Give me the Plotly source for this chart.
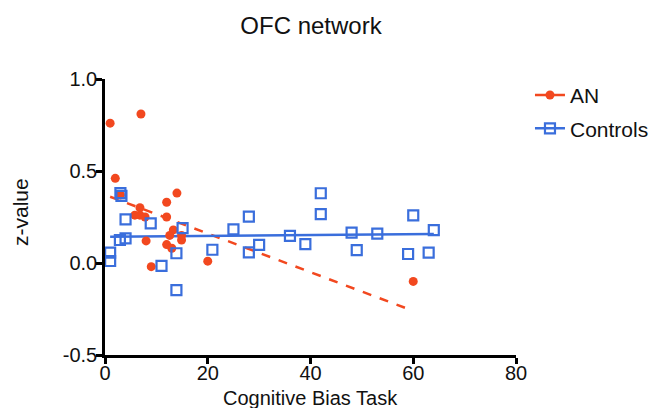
import plotly.graph_objects as go

# AN group (filled circles)
an_x = [1.0, 2.0, 3.0, 7.0, 6.8, 5.8, 6.8, 7.8, 8.0, 9.0, 12.0, 14.0, 12.0, 13.3, 12.6, 14.9, 14.9, 12.0, 13.0, 20.0, 60.0]
an_y = [0.76, 0.46, 0.37, 0.81, 0.30, 0.26, 0.26, 0.25, 0.12, -0.02, 0.33, 0.38, 0.25, 0.18, 0.15, 0.15, 0.125, 0.10, 0.08, 0.01, -0.10]

# Controls group (open squares)
ctl_x = [1.0, 1.0, 3.0, 3.2, 4.0, 2.9, 4.0, 8.9, 11.0, 13.9, 13.9, 15.1, 20.9, 25.0, 28.0, 28.0, 30.0, 36.0, 39.0, 42.0, 42.0, 48.0, 49.0, 53.0, 60.0, 59.0, 63.0, 64.0]
ctl_y = [0.056, 0.011, 0.38, 0.365, 0.237, 0.125, 0.134, 0.215, -0.016, -0.147, 0.053, 0.19, 0.072, 0.183, 0.252, 0.058, 0.098, 0.147, 0.103, 0.379, 0.266, 0.165, 0.07, 0.16, 0.259, 0.049, 0.056, 0.179]

# Regression lines (endpoints)
an_fit_x = [1.0, 59.5]
an_fit_y = [0.36, -0.255]
ctl_fit_x = [1.0, 64.0]
ctl_fit_y = [0.143, 0.158]

x_ticks = [0, 20, 40, 60, 80]
y_ticks = [-0.5, 0.0, 0.5, 1.0]

RED = "#F2481F"
BLUE = "#3A6EDC"
INK = "#111111"
FONT = "Arial, Liberation Sans, sans-serif"

W, H = 654, 408
ML, MR, MT, MB = 105, 138, 79, 53

fig = go.Figure()

fig.add_trace(go.Scatter(x=an_fit_x, y=an_fit_y, mode="lines",
                         line=dict(color=RED, width=2.5, dash="dash"),
                         showlegend=False, hoverinfo="skip"))
fig.add_trace(go.Scatter(x=ctl_fit_x, y=ctl_fit_y, mode="lines",
                         line=dict(color=BLUE, width=2.5),
                         showlegend=False, hoverinfo="skip"))
fig.add_trace(go.Scatter(x=an_x, y=an_y, mode="markers",
                         marker=dict(symbol="circle", size=9, color=RED),
                         showlegend=False, cliponaxis=False))
fig.add_trace(go.Scatter(x=ctl_x, y=ctl_y, mode="markers",
                         marker=dict(symbol="square-open", size=10, color=BLUE,
                                     line=dict(width=2.2, color=BLUE)),
                         showlegend=False, cliponaxis=False))

# Legend entries
fig.add_trace(go.Scatter(x=[None], y=[None], mode="lines+markers", name="AN",
                         legendgroup="an",
                         line=dict(color=RED, width=2.5),
                         marker=dict(symbol="circle", size=9, color=RED)))
fig.add_trace(go.Scatter(x=[None], y=[None], mode="lines+markers", name="Controls",
                         legendgroup="ctl",
                         line=dict(color=BLUE, width=2.5),
                         marker=dict(symbol="square-open", size=10, color=BLUE,
                                     line=dict(width=2.2, color=BLUE))))

fig.update_layout(
    width=W, height=H,
    margin=dict(l=ML, r=MR, t=MT, b=MB, autoexpand=False),
    paper_bgcolor="white", plot_bgcolor="white",
    font=dict(family=FONT, size=20, color=INK),
    title=dict(text="OFC network", x=311 / W, xanchor="center",
               y=1 - 26 / H, yanchor="middle",
               font=dict(size=24, family=FONT, color=INK)),
    legend=dict(x=1.034, y=1.015, xanchor="left", yanchor="top",
                font=dict(size=21, family=FONT, color=INK),
                bgcolor="rgba(0,0,0,0)", tracegroupgap=3),
    showlegend=True,
    annotations=[
        dict(text="z-value", textangle=-90, xref="paper", yref="paper",
             x=-0.2068, y=0.518, xanchor="center", yanchor="middle",
             showarrow=False, font=dict(size=21, family=FONT, color=INK)),
        dict(text="Cognitive Bias Task", xref="paper", yref="paper",
             x=0.501, y=-0.156, xanchor="center", yanchor="middle",
             showarrow=False, font=dict(size=20, family=FONT, color=INK)),
    ],
)

fig.update_xaxes(range=[0, 80], tickvals=x_ticks, ticktext=[str(v) for v in x_ticks],
                 showline=True, linecolor="black", linewidth=2.5,
                 ticks="outside", ticklen=6, tickwidth=2.5, tickcolor="black",
                 ticklabelstandoff=-8,
                 showgrid=False, zeroline=False, automargin=False,
                 tickfont=dict(size=20, family=FONT, color=INK))
fig.update_yaxes(range=[-0.5, 1.0], tickvals=y_ticks, ticktext=["%.1f" % v for v in y_ticks],
                 showline=True, linecolor="black", linewidth=2.5,
                 ticks="outside", ticklen=6, tickwidth=2.5, tickcolor="black",
                 ticklabelstandoff=-5,
                 showgrid=False, zeroline=False, automargin=False,
                 tickfont=dict(size=20, family=FONT, color=INK))

fig.write_html(
    "out.html",
    config={"displayModeBar": False},
    post_script="document.body.style.margin='0px';document.body.style.padding='0px';"
                "document.documentElement.style.overflow='hidden';",
)
